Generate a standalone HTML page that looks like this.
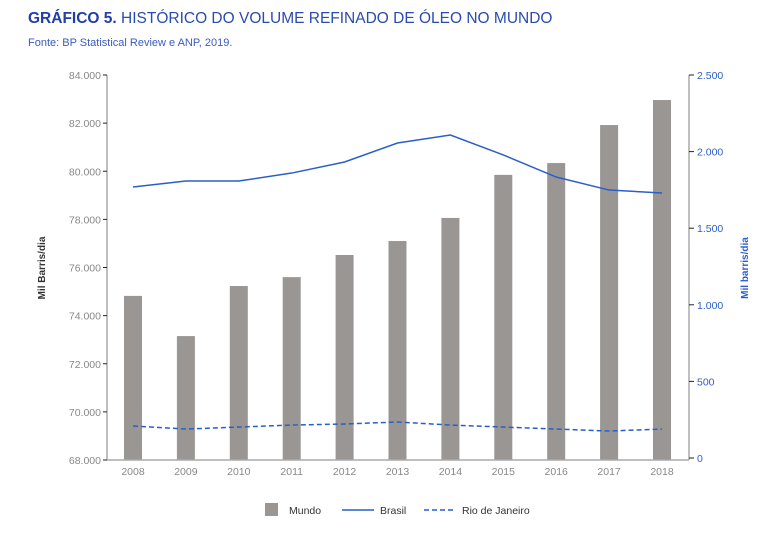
<!DOCTYPE html>
<html><head><meta charset="utf-8"><style>
body{margin:0;background:#fff;width:768px;height:539px;overflow:hidden;font-family:"Liberation Sans",sans-serif}
</style></head><body>
<svg width="768" height="539" xmlns="http://www.w3.org/2000/svg" id="c">
<text x="28" y="23" font-size="15.5" fill="#2a4bb0"><tspan font-weight="bold" fill="#1f3ea8">GRÁFICO 5.</tspan> HISTÓRICO DO VOLUME REFINADO DE ÓLEO NO MUNDO</text>
<text x="28" y="46" font-size="11" fill="#3a5cc0">Fonte: BP Statistical Review e ANP, 2019.</text>
<text transform="translate(45,268) rotate(-90)" text-anchor="middle" font-size="10" font-weight="bold" fill="#333">Mil Barris/dia</text>
<text transform="translate(748,268) rotate(-90)" text-anchor="middle" font-size="10" font-weight="bold" fill="#2a5fc9">Mil barris/dia</text>
<g id="plot"></g>
<g>
<rect x="265" y="503" width="13" height="13" fill="#9a9694"/>
<text x="289" y="514" font-size="10.5" fill="#333">Mundo</text>
<line x1="342" y1="510" x2="374" y2="510" stroke="#2a5fc9" stroke-width="1.5"/>
<text x="380" y="514" font-size="10.5" fill="#333">Brasil</text>
<line x1="424" y1="510" x2="456" y2="510" stroke="#2a5fc9" stroke-width="1.5" stroke-dasharray="5,3"/>
<text x="462" y="514" font-size="10.5" fill="#333">Rio de Janeiro</text>
</g>
</svg>
<script>
const years=["2008","2009","2010","2011","2012","2013","2014","2015","2016","2017","2018"];
const mundo=[74820,73150,75230,75600,76520,77100,78060,79850,80340,81920,82960];
const brasil=[1769,1808,1808,1860,1932,2056,2108,1978,1834,1749,1730];
const rio=[209,189,202,215,222,235,215,202,189,176,189];
const leftTicks=[68000,70000,72000,74000,76000,78000,80000,82000,84000];
const rightTicks=[0,500,1000,1500,2000,2500];
const NS="http://www.w3.org/2000/svg";
const g=document.getElementById('plot');
const X0=107,X1=689,YT=75,YB=460;
const xs=i=>133+i*52.9;
const yl=v=>YB-(v-68000)/16000*(YB-YT);
const yr=v=>458-v/2500*(458-YT);
function mk(t,a){const e=document.createElementNS(NS,t);for(const k in a)e.setAttribute(k,a[k]);g.appendChild(e);return e;}
let e;
e=mk('line',{x1:X0,y1:YT,x2:X0,y2:YB,stroke:'#aaa','stroke-width':1.5});


e=mk('line',{x1:X1,y1:YT,x2:X1,y2:YB,stroke:'#aaa','stroke-width':1.5});


leftTicks.forEach(v=>{
 e=mk('line',{x1:X0-4,y1:yl(v),x2:X0,y2:yl(v),stroke:'#222'});
 
 
 e=mk('text',{x:X0-6,y:yl(v)+4,'text-anchor':'end','font-size':10.5,fill:'#888'});
 e.textContent=v.toLocaleString('de-DE');
 
 
});
rightTicks.forEach(v=>{
 e=mk('line',{x1:X1,y1:yr(v),x2:X1+5,y2:yr(v),stroke:'#222'});
 
 
 e=mk('text',{x:X1+8,y:yr(v)+4,'font-size':10.5,fill:'#2a5fc9'});
 e.textContent=v.toLocaleString('de-DE');
 
 
});
years.forEach((y,i)=>{
 e=mk('rect',{x:xs(i)-9,y:yl(mundo[i]),width:18,height:YB-yl(mundo[i]),fill:'#9a9694'});
 
 
 e=mk('text',{x:xs(i),y:YB+15,'text-anchor':'middle','font-size':10.5,fill:'#888'});
 e.textContent=y;
 
 
});
e=mk('line',{x1:X0,y1:YB,x2:X1,y2:YB,stroke:'#aaa','stroke-width':1.5});


e=mk('polyline',{points:brasil.map((v,i)=>xs(i)+','+yr(v)).join(' '),fill:'none',stroke:'#2a5fc9','stroke-width':1.5});


e=mk('polyline',{points:rio.map((v,i)=>xs(i)+','+yr(v)).join(' '),fill:'none',stroke:'#2a5fc9','stroke-width':1.5,'stroke-dasharray':'5,3'});


</script>
</body></html>
